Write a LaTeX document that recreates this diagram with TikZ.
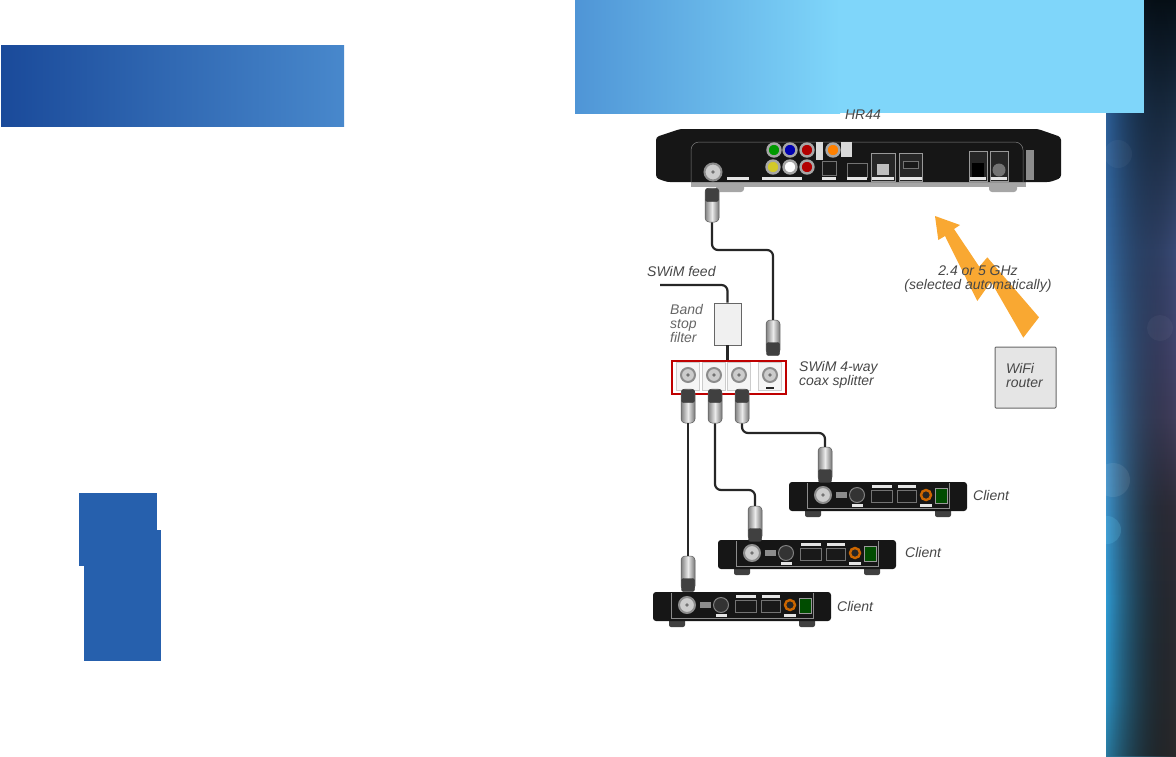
\documentclass[tikz,border=0pt]{standalone}
\usepackage{fontspec}
\setmainfont{Liberation Sans}
\usetikzlibrary{fadings}

\definecolor{bodyblack}{HTML}{161616}
\definecolor{bandleft}{HTML}{4F95D6}
\definecolor{bandright}{HTML}{7FD6FA}
\definecolor{titleleft}{HTML}{1A4A9A}
\definecolor{titleright}{HTML}{4888CC}
\definecolor{tabblue}{HTML}{2660AD}
\definecolor{waveorange}{HTML}{F9A832}
\definecolor{slA}{HTML}{2A7A9F}
\definecolor{slB}{HTML}{2B8FC0}
\definecolor{slC}{HTML}{2F9AD2}
\definecolor{slD}{HTML}{4090C8}
\definecolor{slE}{HTML}{3A7FB8}
\definecolor{slF}{HTML}{366DA6}
\definecolor{slG}{HTML}{2D5F98}
\definecolor{slH}{HTML}{12283C}
\definecolor{srA}{HTML}{2A2A2C}
\definecolor{srB}{HTML}{2A2C33}
\definecolor{srC}{HTML}{302E3A}
\definecolor{srD}{HTML}{43405F}
\definecolor{srE}{HTML}{43456E}
\definecolor{srF}{HTML}{3A4C78}
\definecolor{srG}{HTML}{1C3048}
\definecolor{srH}{HTML}{061018}
\pgfdeclareverticalshading{stripleft}{100bp}{color(0bp)=(slA); color(25bp)=(slA); color(28.7bp)=(slB); color(35.3bp)=(slC); color(43.25bp)=(slD); color(51.85bp)=(slE); color(58.45bp)=(slF); color(67.4bp)=(slG); color(75bp)=(slH); color(100bp)=(slH)}
\pgfdeclareverticalshading{stripright}{100bp}{color(0bp)=(srA); color(25bp)=(srA); color(35bp)=(srB); color(41.5bp)=(srC); color(47.5bp)=(srD); color(52bp)=(srE); color(58.45bp)=(srF); color(67.4bp)=(srG); color(75bp)=(srH); color(100bp)=(srH)}
\tikzfading[name=stripfade, left color=transparent!100, middle color=transparent!92, right color=transparent!0]

\tikzset{
	lbl/.style={font=\fontsize{14}{14}\selectfont\itshape, text=black!72, inner sep=0pt, align=left, anchor=west},
	coax/.style={line width=2.2pt, draw=black!85, rounded corners=6pt},
	plugbody/.style={draw=black!65, line width=.5pt, rounded corners=4pt, left color=black!50, right color=black!55, middle color=black!8, minimum width=14pt, minimum height=34pt, inner sep=0pt},
	plugnut/.style={fill=black!75, draw=black!80, rounded corners=2pt, minimum width=13pt, minimum height=13pt, inner sep=0pt},
	coaxport/.style={circle, draw=black!45, line width=2pt, fill=black!20, minimum size=#1, inner sep=0pt, path picture={\fill[black!55] (path picture bounding box.center) circle (1.8pt);}},
	coaxport/.default=14pt,
	rca/.style={circle, draw=black!35, line width=2.4pt, fill=#1, minimum size=13pt, inner sep=0pt},
	tag/.style={fill=black!10, inner sep=0pt, minimum width=#1, minimum height=3pt},
	socket/.style={draw=black!55, line width=.6pt, fill=black!90, inner sep=0pt},
	foot/.style={fill=black!75, rounded corners=2pt, minimum width=16pt, minimum height=10pt, inner sep=0pt},
	hrfoot/.style={fill=black!35, rounded corners=3pt, minimum width=28pt, minimum height=12pt, inner sep=0pt},
	splitbay/.style={draw=black!20, fill=black!4, minimum width=23pt, minimum height=28pt, inner sep=0pt}
}

% one client box, from its top left corner
\newcommand{\clientbox}[3]{
	\begin{scope}[shift={(#2,#3)}]
		\node[foot] (#1foota) at (24,30) {};
		\node[foot] (#1footb) at (154,30) {};
		\node[fill=bodyblack, rounded corners=3pt, minimum width=178pt, minimum height=29pt, inner sep=0pt] (#1) at (89,14.5) {};
		\draw[black!45, line width=.4pt] (18,1) -- (18,26) -- (160,26) -- (160,1);
		\node[coaxport=16pt] (#1coax) at (34,13) {};
		\node[fill=black!45, minimum width=11pt, minimum height=6pt, inner sep=0pt] (#1note) at (52,13) {};
		\node[circle, draw=black!50, line width=1pt, fill=black!80, minimum size=15pt, inner sep=0pt] (#1disc) at (68,13) {};
		\node[tag=11pt] (#1disct) at (68,23.5) {};
		\node[socket, minimum width=21pt, minimum height=12pt] (#1hdmi) at (92.5,14) {};
		\node[tag=20pt] (#1hdmit) at (92.5,4) {};
		\node[socket, minimum width=19pt, minimum height=12pt] (#1usb) at (117.5,14) {};
		\node[tag=18pt] (#1usbt) at (117.5,4) {};
		\node[rca={black!85}, draw=orange!80!black, minimum size=10pt] (#1out) at (137,13) {};
		\node[tag=12pt] (#1outt) at (137,23.5) {};
		\node[draw=black!40, fill=black!70!green, minimum width=12pt, minimum height=15pt, inner sep=0pt] (#1pwr) at (152,14) {};
	\end{scope}
}

\begin{document}
\begin{tikzpicture}[x=1pt, y=-1pt]
	\useasboundingbox (0,0) rectangle (1176,756);

	% backdrop
	\fill[shading=stripleft] (1106,0) rectangle (1176,756);
	\fill[shading=stripright, path fading=stripfade] (1106,0) rectangle (1176,756);
	\begin{scope}
		\clip (1106,0) rectangle (1176,756);
		\fill[white, opacity=.08] (1113,480) circle (17);
		\fill[cyan!60!white, opacity=.2] (1107,530) circle (14);
		\fill[white, opacity=.04] (1118,154) circle (14);
		\fill[white, opacity=.04] (1160,328) circle (13);
	\end{scope}
	\fill[left color=bandleft, right color=bandright] (575,0) rectangle (840,113);
	\fill[bandright] (840,0) rectangle (1144,113);
	\fill[left color=titleleft, right color=titleright] (1,45) rectangle (344,126);
	\fill[tabblue] (79,493) rectangle (157,566);
	\fill[tabblue] (84,530) rectangle (161,661);

	% receiver
	\node[lbl, anchor=center] (hrname) at (863,115) {HR44};
	\node[hrfoot] (hrfoota) at (730,186) {};
	\node[hrfoot] (hrfootb) at (1003,186) {};
	\node[fill=black!35, minimum width=335pt, minimum height=5pt, inner sep=0pt] (hrlip) at (858,184) {};
	\fill[bodyblack, rounded corners=3pt] (656,137) -- (680,129) -- (1038,129) -- (1061,137) -- (1061,178) -- (1050,182) -- (667,182) -- (656,178) -- cycle;
	\draw[black!50, line width=.5pt, rounded corners=8pt] (691,182) -- (691,142) -- (1023,142) -- (1023,182);
	\node[coaxport=17pt] (hrcoax) at (713,172) {};
	\foreach \name/\px/\py/\col in {rcaa/774/150/green!60!black, rcab/790/150/blue!70!black, rcac/807/150/red!70!black, rcad/773/167/yellow!80!black, rcae/790/167/white, rcaf/807/167/red!70!black, rcag/833/150/orange}
		\node[rca=\col] (\name) at (\px,\py) {};
	\node[fill=black!15, minimum width=7pt, minimum height=18pt, inner sep=0pt] (hrtaga) at (819,151) {};
	\node[fill=black!15, minimum width=11pt, minimum height=15pt, inner sep=0pt] (hrtagb) at (846,149) {};
	\node[socket, minimum width=14pt, minimum height=14pt] (hroptical) at (829,168) {};
	\node[socket, minimum width=20pt, minimum height=14pt] (hrhdmi) at (857,170) {};
	\node[draw=black!40, fill=black!85, minimum width=24pt, minimum height=28pt, inner sep=0pt] (hrlan) at (883,167) {};
	\node[fill=black!25, minimum width=12pt, minimum height=11pt, inner sep=0pt] (hrjack) at (883,169) {};
	\node[draw=black!40, fill=black!85, minimum width=23pt, minimum height=28pt, inner sep=0pt] (hrusb) at (911,167) {};
	\node[socket, minimum width=15pt, minimum height=7pt] (hrusbs) at (911,165) {};
	\node[draw=black!40, fill=black!85, minimum width=18pt, minimum height=30pt, inner sep=0pt] (hrphone) at (978,166) {};
	\node[fill=black, minimum width=12pt, minimum height=14pt, inner sep=0pt] (hrphonej) at (978,170) {};
	\node[draw=black!40, fill=black!85, minimum width=18pt, minimum height=30pt, inner sep=0pt] (hrpower) at (999,166) {};
	\node[circle, fill=black!55, minimum size=13pt, inner sep=0pt] (hrpowerj) at (999,170) {};
	\node[fill=black!45, minimum width=8pt, minimum height=30pt, inner sep=0pt] (hrvent) at (1030,165) {};
	\foreach \name/\px/\wid in {taga/738/22pt, tagb/782/40pt, tagc/829/14pt, tagd/857/20pt, tage/883/22pt, tagf/911/22pt, tagg/978/16pt, tagh/999/16pt}
		\node[tag=\wid] (hr\name) at (\px,178.5) {};

	% splitter and filter
	\node[draw=red!75!black, line width=1.6pt, fill=white, minimum width=114pt, minimum height=33pt, inner sep=0pt] (split) at (729,377.5) {};
	\node[splitbay] (baya) at (688,376) {};
	\node[splitbay] (bayb) at (714,376) {};
	\node[splitbay] (bayc) at (739,376) {};
	\node[splitbay] (bayd) at (770,376) {};
	\node[coaxport] (porta) at (688,375) {};
	\node[coaxport] (portb) at (714,375) {};
	\node[coaxport] (portc) at (739,375) {};
	\node[coaxport] (portd) at (770,375) {};
	\node[fill=black!85, minimum width=8pt, minimum height=2.5pt, inner sep=0pt] (portdash) at (770,388) {};
	\node[draw=black!60, line width=.8pt, fill=black!6, minimum width=27pt, minimum height=42pt, inner sep=0pt] (filter) at (727.5,324) {};
	\coordinate (feed) at (660,285);
	\coordinate (feedbend) at (727.5,285);

	% clients
	\clientbox{cla}{789}{482}
	\clientbox{clb}{718}{540}
	\clientbox{clc}{653}{592}

	% plugs
	\node[plugbody] (plughr) at (712,205) {};
	\node[plugnut] (nuthr) at (712,195) {};
	\node[plugbody] (plugin) at (773,337) {};
	\node[plugnut] (nutin) at (773,349) {};
	\node[plugbody] (pluga) at (688,406) {};
	\node[plugnut] (nuta) at (688,396) {};
	\node[plugbody] (plugb) at (715,406) {};
	\node[plugnut] (nutb) at (715,396) {};
	\node[plugbody] (plugc) at (742,406) {};
	\node[plugnut] (nutc) at (742,396) {};
	\node[plugbody] (plugcla) at (825,464) {};
	\node[plugnut] (nutcla) at (825,476) {};
	\node[plugbody] (plugclb) at (755,523) {};
	\node[plugnut] (nutclb) at (755,535) {};
	\node[plugbody] (plugclc) at (688,573) {};
	\node[plugnut] (nutclc) at (688,585) {};

	% cables
	\coordinate (bendhr) at (740,250);
	\coordinate (bendb) at (735,490);
	\coordinate (bendc) at (780,433);
	\draw[coax] (plughr.south) |- (bendhr) -| (plugin.north);
	\draw[coax] (feed) -- (feedbend) -- (filter.north);
	\draw[coax] (filter.south) -- (filter.south |- split.north);
	\draw[coax] (pluga.south) -- (plugclc.north);
	\draw[coax] (plugb.south) |- (bendb) -| (plugclb.north);
	\draw[coax] (plugc.south) |- (bendc) -| (plugcla.north);

	% wifi
	\node[draw=black!60, line width=1pt, rounded corners=1pt, fill=black!10, minimum width=61pt, minimum height=61pt, inner sep=0pt] (router) at (1025.5,377.5) {};
	\fill[waveorange] (935,216) -- (960,225) -- (954,229) -- (979.3,266.7) -- (987.3,257.3) -- (1039,317.3) -- (1023.3,337.7) -- (991,281.7) -- (977.3,301) -- (945,236) -- (938.3,240) -- cycle;

	% labels
	\node[lbl, anchor=center, align=center] (wifiband) at (978,279) {2.4 or 5 GHz\\(selected automatically)};
	\node[lbl] (wifiname) at (1006,375) {WiFi\\router};
	\node[lbl] (feedname) at (647,271) {SWiM feed};
	\node[lbl, text=black!60] (filtername) at (670,323) {Band\\stop\\filter};
	\node[lbl] (splitname) at (799,375) {SWiM 4-way\\coax splitter};
	\node[lbl] (claname) at (973,495) {Client};
	\node[lbl] (clbname) at (905,552) {Client};
	\node[lbl] (clcname) at (837,606) {Client};
\end{tikzpicture}
\end{document}
